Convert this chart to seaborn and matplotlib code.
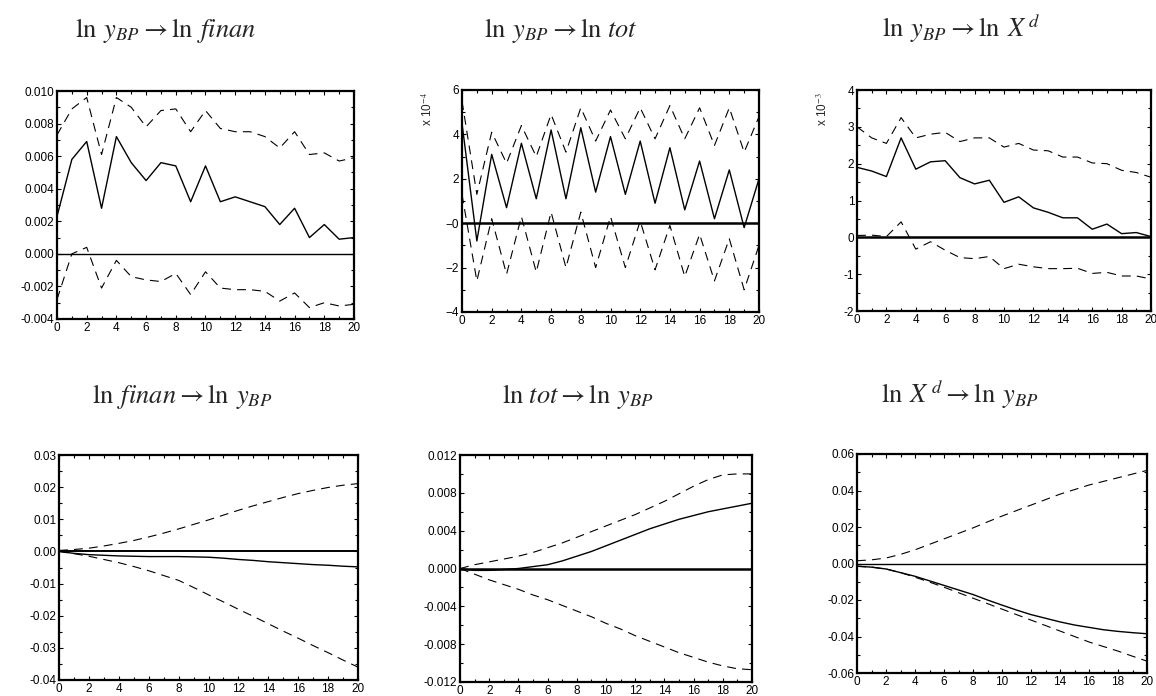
import numpy as np
import pandas as pd
import matplotlib
matplotlib.use("Agg")
import matplotlib.pyplot as plt
import seaborn as sns
from matplotlib.ticker import MultipleLocator, FormatStrFormatter, FixedFormatter, FixedLocator

sns.set_style("ticks")
plt.rcParams['font.family'] = ['Liberation Sans', 'DejaVu Sans']
plt.rcParams['mathtext.fontset'] = 'stix'

horizon = list(range(21))

# Panel 1: ln y_BP -> ln finan
p1_mid = [0.0023, 0.0058, 0.0069, 0.0028, 0.0072, 0.0056, 0.0045, 0.0056, 0.0054, 0.0032, 0.0054,
          0.0032, 0.0035, 0.0032, 0.0029, 0.0018, 0.0028, 0.0010, 0.0018, 0.0009, 0.0010]
p1_up = [0.0073, 0.0089, 0.0096, 0.0061, 0.0096, 0.0090, 0.0078, 0.0088, 0.0089, 0.0075, 0.0088,
         0.0077, 0.0075, 0.0075, 0.0072, 0.0065, 0.0075, 0.0061, 0.0062, 0.0057, 0.0059]
p1_lo = [-0.0028, 0.0000, 0.0004, -0.0021, -0.0004, -0.0014, -0.0016, -0.0017, -0.0012, -0.0025, -0.0011,
         -0.0021, -0.0022, -0.0022, -0.0023, -0.0029, -0.0024, -0.0033, -0.0030, -0.0032, -0.0031]

# Panel 2: ln y_BP -> ln tot  (units of 1e-4)
p2_mid = [4.5, -0.8, 3.1, 0.7, 3.6, 1.1, 4.2, 1.1, 4.3, 1.4, 3.9,
          1.3, 3.7, 0.9, 3.4, 0.6, 2.8, 0.2, 2.4, -0.2, 2.0]
p2_up = [5.5, 1.3, 4.1, 2.7, 4.4, 3.0, 4.9, 3.2, 5.2, 3.7, 5.1,
         3.8, 5.2, 3.8, 5.3, 3.8, 5.2, 3.5, 5.2, 3.2, 4.8]
p2_lo = [1.3, -2.6, 0.2, -2.3, 0.3, -2.2, 0.5, -2.0, 0.5, -2.0, 0.3,
         -2.0, 0.1, -2.1, -0.1, -2.4, -0.5, -2.6, -0.7, -3.0, -1.0]

# Panel 3: ln y_BP -> ln X^d  (units of 1e-3)
p3_mid = [1.9, 1.8, 1.65, 2.7, 1.85, 2.05, 2.08, 1.62, 1.45, 1.55, 0.95,
          1.1, 0.8, 0.68, 0.53, 0.53, 0.22, 0.36, 0.1, 0.13, 0.02]
p3_up = [3.0, 2.7, 2.55, 3.25, 2.7, 2.8, 2.85, 2.6, 2.7, 2.7, 2.45,
         2.55, 2.37, 2.35, 2.18, 2.18, 2.02, 2.0, 1.82, 1.76, 1.63]
p3_lo = [0.05, 0.06, 0.02, 0.42, -0.32, -0.12, -0.35, -0.55, -0.58, -0.52, -0.85,
         -0.73, -0.80, -0.85, -0.85, -0.84, -0.98, -0.95, -1.05, -1.05, -1.13]

# Panel 4: ln finan -> ln y_BP
p4_mid = [0.0, -0.0006, -0.0010, -0.0012, -0.0014, -0.0015, -0.0016, -0.0016, -0.0016, -0.0017, -0.0018,
          -0.0021, -0.0025, -0.0028, -0.0032, -0.0035, -0.0038, -0.0041, -0.0043, -0.0046, -0.0048]
p4_up = [0.0003, 0.0006, 0.0010, 0.0017, 0.0025, 0.0034, 0.0045, 0.0057, 0.0070, 0.0084, 0.0098,
         0.0113, 0.0128, 0.0142, 0.0155, 0.0168, 0.0180, 0.0190, 0.0199, 0.0206, 0.0211]
p4_lo = [0.0, -0.0007, -0.0015, -0.0025, -0.0035, -0.0047, -0.0060, -0.0075, -0.0090, -0.0112, -0.0135,
         -0.0157, -0.0180, -0.0202, -0.0225, -0.0248, -0.0270, -0.0293, -0.0315, -0.0338, -0.0360]

# Panel 5: ln tot -> ln y_BP
p5_mid = [0.0, -0.0002, -0.0002, -0.0001, 0.0, 0.0002, 0.0004, 0.0008, 0.0013, 0.0018, 0.0024,
          0.0030, 0.0036, 0.0042, 0.0047, 0.0052, 0.0056, 0.0060, 0.0063, 0.0066, 0.0069]
p5_up = [0.0, 0.0004, 0.0007, 0.0010, 0.0013, 0.0017, 0.0022, 0.0027, 0.0033, 0.0039, 0.0045,
         0.0051, 0.0057, 0.0064, 0.0071, 0.0079, 0.0087, 0.0094, 0.0099, 0.0100, 0.0100]
p5_lo = [0.0, -0.0006, -0.0012, -0.0017, -0.0022, -0.0028, -0.0033, -0.0039, -0.0045, -0.0051, -0.0058,
         -0.0064, -0.0071, -0.0077, -0.0083, -0.0089, -0.0094, -0.0099, -0.0103, -0.0106, -0.0107]

# Panel 6: ln X^d -> ln y_BP
p6_mid = [-0.0015, -0.0020, -0.0030, -0.0050, -0.0070, -0.0095, -0.0120, -0.0145, -0.0170, -0.0200, -0.0228,
          -0.0255, -0.0280, -0.0300, -0.0320, -0.0337, -0.0350, -0.0363, -0.0372, -0.0379, -0.0385]
p6_up = [0.0015, 0.0020, 0.0030, 0.0050, 0.0075, 0.0105, 0.0135, 0.0165, 0.0195, 0.0228, 0.0260,
         0.0290, 0.0320, 0.0350, 0.0380, 0.0405, 0.0430, 0.0450, 0.0470, 0.0490, 0.0510]
p6_lo = [-0.0015, -0.0020, -0.0030, -0.0050, -0.0075, -0.0102, -0.0130, -0.0160, -0.0190, -0.0220, -0.0250,
         -0.0280, -0.0310, -0.0340, -0.0370, -0.0400, -0.0430, -0.0455, -0.0480, -0.0508, -0.0535]

titles = [r'$\ln\;y_{BP} \rightarrow \ln\;finan$',
          r'$\ln\;y_{BP} \rightarrow \ln\,tot$',
          r'$\ln\;y_{BP} \rightarrow \ln\;X^{\,d}$',
          r'$\ln\;finan \rightarrow \ln\;y_{BP}$',
          r'$\ln\,tot \rightarrow \ln\;y_{BP}$',
          r'$\ln\;X^{\,d} \rightarrow \ln\;y_{BP}$']

W, H = 1156, 696
fig = plt.figure(figsize=(W / 100, H / 100), dpi=100)

def box(l, r, t, b):
    return [l / W, 1 - b / H, (r - l) / W, (b - t) / H]

boxes = [box(57, 354, 91, 319), box(462, 759, 90, 312), box(857, 1151, 90, 311),
         box(59, 358, 455, 680), box(460, 752, 455, 682), box(857, 1147, 454, 673)]

panels = [
    (p1_mid, p1_up, p1_lo, (-0.004, 0.010), 0.002, 0.001, '%.3f', None, 1.0),
    (p2_mid, p2_up, p2_lo, (-4, 6), 2, 1, None, r'x 10$^{-4}$', 1.8),
    (p3_mid, p3_up, p3_lo, (-2, 4), 1, 0.5, '%d', r'x 10$^{-3}$', 1.8),
    (p4_mid, p4_up, p4_lo, (-0.04, 0.03), 0.01, 0.005, '%.2f', None, 1.4),
    (p5_mid, p5_up, p5_lo, (-0.012, 0.012), 0.004, 0.002, '%.3f', None, 1.8),
    (p6_mid, p6_up, p6_lo, (-0.06, 0.06), 0.02, 0.01, '%.2f', None, 1.0),
]

title_pos = [(166, 37), (561, 37), (961, 37), (182, 403), (578, 403), (960, 403)]

dash = (0, (8.0, 5.5))
for i, (mid, up, lo, ylim, maj, mnr, fmt, scale_lbl, zlw) in enumerate(panels):
    ax = fig.add_axes(boxes[i])
    df = pd.DataFrame({'h': horizon, 'mid': mid, 'up': up, 'lo': lo})
    sns.lineplot(data=df, x='h', y='mid', ax=ax, color='black', lw=1.0)
    sns.lineplot(data=df, x='h', y='up', ax=ax, color='black', lw=0.8, linestyle=dash)
    sns.lineplot(data=df, x='h', y='lo', ax=ax, color='black', lw=0.8, linestyle=dash)
    ax.axhline(0, color='black', lw=zlw)
    ax.set_xlim(0, 20)
    ax.set_ylim(*ylim)
    ax.set_xlabel('')
    ax.set_ylabel('')
    ax.xaxis.set_major_locator(MultipleLocator(2))
    ax.xaxis.set_minor_locator(MultipleLocator(1))
    ax.yaxis.set_major_locator(MultipleLocator(maj))
    ax.yaxis.set_minor_locator(MultipleLocator(mnr))
    if fmt is not None:
        ax.yaxis.set_major_formatter(FormatStrFormatter(fmt))
    else:
        ticks = [-4, -2, 0, 2, 4, 6]
        ax.yaxis.set_major_locator(FixedLocator(ticks))
        ax.yaxis.set_major_formatter(FixedFormatter(['\u22124', '\u22122', '\u22120', '2', '4', '6']))
    ax.tick_params(which='both', direction='in', top=True, right=True, labelsize=8.5,
                   width=0.8, colors='black', pad=2)
    ax.tick_params(which='major', length=3)
    ax.tick_params(which='minor', length=2)
    for s in ax.spines.values():
        s.set_linewidth(1.6)
        s.set_color('black')
    if scale_lbl:
        ax.text(-0.115, 0.99, scale_lbl, transform=ax.transAxes, rotation=90,
                ha='center', va='top', fontsize=8.5)
    tx, ty = title_pos[i]
    fig.text(tx / W, 1 - ty / H, titles[i], ha='center', va='baseline', fontsize=19)

fig.savefig('out.png', dpi=100)
